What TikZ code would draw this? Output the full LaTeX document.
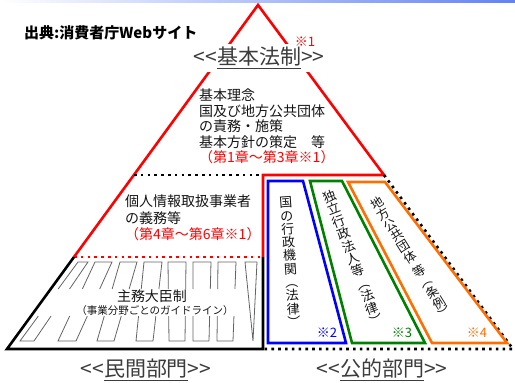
\documentclass[tikz,border=0pt]{standalone}
\usepackage{fontspec}
\setmainfont{Noto Sans CJK JP}
\usetikzlibrary{calc}
\definecolor{rd}{RGB}{255,0,0}
\definecolor{bl}{RGB}{0,0,255}
\definecolor{gr}{RGB}{0,128,0}
\definecolor{og}{RGB}{255,110,0}
\definecolor{txt}{RGB}{20,20,20}
\definecolor{lbl}{RGB}{60,60,60}
\definecolor{pil}{RGB}{100,100,100}
\definecolor{topband}{RGB}{100,130,240}
\newcommand{\lt}{<\kern0pt<}
\newcommand{\gt}{>\kern0pt>}
\tikzset{
  thick line/.style={line width=2.6pt, line join=miter},
  dotline/.style={line width=2.6pt, dash pattern=on 2.6pt off 4.2pt},
  body/.style={inner sep=0pt, text=txt, align=left, font=\fontsize{14}{15.5}\selectfont},
  biglabel/.style={fill=white, inner sep=3pt, text=lbl, font=\fontsize{21}{24}\selectfont},
  vcol/.style={inner sep=0pt, align=center, font=\fontsize{13}{13.3}\selectfont, text=txt},
  note/.style={inner sep=0pt, font=\fontsize{13}{14}\selectfont},
  pillar/.style={draw=pil, line width=0.8pt, line join=miter}
}
\begin{document}
\begin{tikzpicture}[x=1pt,y=-1pt]
\useasboundingbox (0,0) rectangle (515,383);
\shade[left color=white, right color=topband] (0,0) rectangle (515,2.5);

% coordinates of the pyramid
\coordinate (apex) at (258,5);
\coordinate (lA) at (134,175);
\coordinate (rA) at (384,175);
\coordinate (lB) at (74,257);
\coordinate (lC) at (7,349);
\coordinate (rC) at (513,349);
\coordinate (mA) at (263,175);
\coordinate (mB) at (263,257);
\coordinate (mC) at (263,349);

% pillars (private sector)
\foreach \tl/\tr/\bl/\br in {78/88/20/34, 95/112/58/76, 120/137/97/114, 144/162/136/153, 168/186/169/185, 193/211/193/209, 218/236/217/233}{
  \draw[pillar] ($(\tl,262)!0.342!(\bl,341)$) -- (\tl,262) -- (\tr,262) -- ($(\tr,262)!0.342!(\br,341)$);
  \draw[pillar] ($(\tl,262)!0.684!(\bl,341)$) -- (\bl,341) -- (\br,341) -- ($(\tr,262)!0.684!(\br,341)$);
}
\draw[pillar] (245,262) -- (257,262) -- (253,341) -- cycle;

% red upper part
\draw[rd, thick line] (lB) -- (apex) -- (rA) -- (mA) -- (mB);
\draw[black, dotline] (lA) -- (mA);
\draw[rd, dotline] (lB) -- (mB);
% black private part
\draw[black, thick line] (lB) -- (lC) -- (mC) -- (mB);
% dotted public part
\draw[black, dotline] (rA) -- (rC) -- (mC);

% public sector boxes
\draw[bl, thick line] (268,181) -- (303,181) -- (346,343) -- (268,343) -- cycle;
\draw[gr, thick line] (310,181) -- (342,181) -- (425,343) -- (352,343) -- cycle;
\draw[og, thick line] (348,182) -- (385,182) -- (507,343) -- (432,343) -- cycle;

% labels
\node[biglabel] (kihon) at (259,58) {\lt\underline{基本法制}\gt};
\node[note, text=rd] (n1) at (305,42) {※1};
\node[anchor=west, inner sep=0pt, font=\bfseries\fontsize{15}{17}\selectfont] (title) at (24,33) {出典:消費者庁Webサイト};

\node[body, anchor=north west] (basic) at (199,89) {基本理念\\国及び地方公共団体\\の責務・施策\\基本方針の策定　等\\\textcolor{rd}{（第1章～第3章※1）}};
\node[body, anchor=north west, font=\fontsize{14}{16.5}\selectfont] (duty) at (125,195) {個人情報取扱事業者\\の義務等\\\textcolor{rd}{（第4章～第6章※1）}};
\node[inner sep=0pt, text=txt, font=\fontsize{14}{16}\selectfont] (shumu) at (152,296) {主務大臣制};
\node[inner sep=0pt, text=txt, font=\fontsize{10.5}{12}\selectfont] (guide) at (155,311) {（事業分野ごとのガイドライン）};

\node[vcol, rotate=4] (kuni) at (290,262) {国\\の\\行\\政\\機\\関\\︵\\法\\律\\︶};
\node[vcol, rotate=21] (dokuritsu) at (353,258) {独\\立\\行\\政\\法\\人\\等\\︵\\法\\律\\︶};
\node[vcol, rotate=32, font=\fontsize{12.5}{12.6}\selectfont] (chiho) at (411,258) {地\\方\\公\\共\\団\\体\\[4pt]等\\︵\\条\\例\\︶};

\node[note, text=bl] (n2) at (327,333) {※2};
\node[note, text=gr] (n3) at (402,333) {※3};
\node[note, text=og] (n4) at (477,333) {※4};

\node[biglabel] (minkan) at (146,370) {\lt\underline{民間部門}\gt};
\node[biglabel] (koteki) at (382,370) {\lt\underline{公的部門}\gt};
\end{tikzpicture}
\end{document}
